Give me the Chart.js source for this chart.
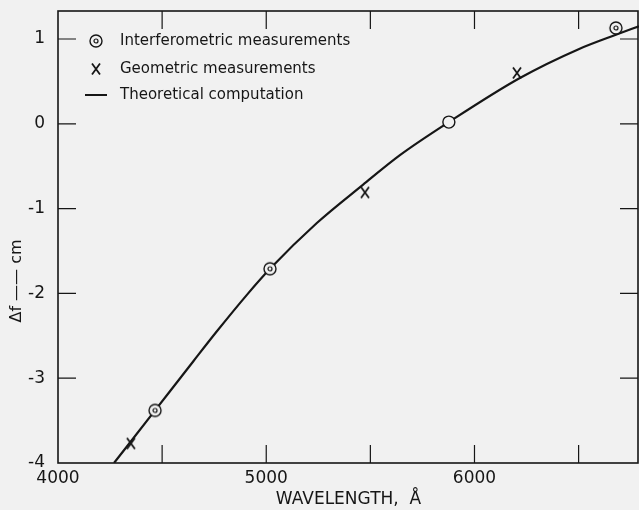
<!doctype html>
<html>

<head>
    <title>Focal shift</title>
    <script src="https://cdn.jsdelivr.net/npm/chart.js"></script>
</head>

<style>
    body { margin: 0; background: #f1f1f1; }
    #caixa { width: 639px; height: 510px; }
</style>

<body>
    <div id="caixa"><canvas id="grafico" width="639" height="510"></canvas></div>

    <script>
        // dados
        var xTicks = [4000, 4500, 5000, 5500, 6000, 6500];
        var xRotulos = [4000, 5000, 6000];
        var yTicks = [-4, -3, -2, -1, 0, 1];

        var interfX = [4466, 5018, 6679];
        var interfY = [-3.38, -1.71, 1.13];
        var sodioX = [5877];
        var sodioY = [0.02];
        var geomX = [4350, 5474, 6204];
        var geomY = [-3.77, -0.81, 0.60];
        var teoX = [4269, 4466, 4650, 4762, 4906, 5018, 5243, 5464, 5642, 5877, 6218, 6500, 6679, 6790];
        var teoY = [-4.00, -3.38, -2.80, -2.45, -2.02, -1.71, -1.17, -0.72, -0.37, 0.02, 0.54, 0.88, 1.05, 1.15];

        var fundo = '#f1f1f1';
        var tinta = '#161616';
        var fonte = '"DejaVu Sans"';

        function pares(xs, ys) {
            return xs.map((x, i) => ({ x: x, y: ys[i] }));
        }

        // marcador circulo com ponto
        var alvo = document.createElement('canvas');
        alvo.width = 16; alvo.height = 16;
        var c1 = alvo.getContext('2d');
        c1.fillStyle = fundo; c1.strokeStyle = tinta; c1.lineWidth = 1.4;
        c1.beginPath(); c1.arc(8, 8, 6, 0, 2 * Math.PI); c1.fill(); c1.stroke();
        c1.lineWidth = 1.2;
        c1.beginPath(); c1.arc(8, 8, 2, 0, 2 * Math.PI); c1.stroke();

        // marcador X
        var xis = document.createElement('canvas');
        xis.width = 12; xis.height = 14;
        var c2 = xis.getContext('2d');
        c2.strokeStyle = tinta; c2.lineWidth = 1.8;
        c2.beginPath();
        c2.moveTo(2, 1.5); c2.lineTo(10, 12.5);
        c2.moveTo(10, 1.5); c2.lineTo(2, 12.5);
        c2.stroke();

        var moldura = {
            id: 'moldura',
            beforeDatasetsDraw(chart) {
                var a = chart.chartArea, ctx = chart.ctx;
                var sx = chart.scales.x, sy = chart.scales.y, L = 18;
                ctx.save();
                ctx.strokeStyle = tinta;
                ctx.lineWidth = 1.6;
                ctx.strokeRect(a.left, a.top, a.right - a.left - 1, a.bottom - a.top);
                ctx.lineWidth = 1.2;
                ctx.beginPath();
                xTicks.forEach(v => {
                    var p = sx.getPixelForValue(v);
                    if (p <= a.left + 1) return;
                    ctx.moveTo(p, a.bottom); ctx.lineTo(p, a.bottom - L);
                    ctx.moveTo(p, a.top); ctx.lineTo(p, a.top + L);
                });
                yTicks.forEach(v => {
                    var p = sy.getPixelForValue(v);
                    if (p >= a.bottom - 1) return;
                    ctx.moveTo(a.left, p); ctx.lineTo(a.left + L, p);
                    ctx.moveTo(a.right - 1, p); ctx.lineTo(a.right - 1 - L, p);
                });
                ctx.stroke();
                ctx.restore();
            }
        };

        var legenda = {
            id: 'legenda',
            afterDatasetsDraw(chart) {
                var a = chart.chartArea, ctx = chart.ctx;
                var x0 = a.left + 38, xt = a.left + 62;
                var linhas = [a.top + 30, a.top + 58, a.top + 84];
                var textos = chart.data.datasets.filter(d => d.label).map(d => d.label);
                ctx.save();
                ctx.drawImage(alvo, x0 - 8, linhas[0] - 8);
                ctx.drawImage(xis, x0 - 6, linhas[1] - 7);
                ctx.strokeStyle = tinta; ctx.lineWidth = 2;
                ctx.beginPath(); ctx.moveTo(x0 - 11, linhas[2]); ctx.lineTo(x0 + 11, linhas[2]); ctx.stroke();
                ctx.font = '15px ' + fonte;
                ctx.fillStyle = tinta;
                ctx.textBaseline = 'middle';
                textos.forEach((t, i) => ctx.fillText(t, xt, linhas[i]));
                ctx.restore();
            }
        };

        var grafico = new Chart(document.getElementById('grafico').getContext('2d'), {
            type: 'scatter',
            data: {
                datasets: [{
                    label: 'Interferometric measurements',
                    data: pares(interfX, interfY),
                    pointStyle: alvo,
                    order: 1
                }, {
                    label: 'Geometric measurements',
                    data: pares(geomX, geomY),
                    pointStyle: xis,
                    order: 1
                }, {
                    label: 'Theoretical computation',
                    data: pares(teoX, teoY),
                    showLine: true,
                    borderColor: tinta,
                    borderWidth: 2.2,
                    cubicInterpolationMode: 'monotone',
                    pointRadius: 0,
                    order: 3
                }, {
                    data: pares(sodioX, sodioY),
                    pointStyle: 'circle',
                    pointRadius: 6,
                    borderWidth: 1.4,
                    borderColor: tinta,
                    backgroundColor: fundo,
                    order: 2
                }]
            },
            options: {
                responsive: false,
                animation: false,
                layout: { autoPadding: false, padding: { left: 4, top: 11, right: 0, bottom: 0 } },
                plugins: {
                    legend: { display: false },
                    tooltip: { enabled: false }
                },
                scales: {
                    x: {
                        type: 'linear',
                        min: 4000,
                        max: 6790,
                        afterBuildTicks: s => { s.ticks = xTicks.map(v => ({ value: v })); },
                        afterFit: s => { s.height = 47; s.paddingLeft = 0; s.paddingRight = 0; },
                        grid: { display: false },
                        border: { display: false },
                        ticks: {
                            autoSkip: false,
                            maxRotation: 0,
                            padding: -3,
                            color: tinta,
                            font: { family: fonte, size: 17 },
                            callback: v => xRotulos.includes(v) ? String(v) : ''
                        },
                        title: {
                            display: true,
                            text: 'WAVELENGTH,  Å',
                            color: tinta,
                            font: { family: fonte, size: 17 },
                            padding: { top: 0, bottom: 0 }
                        }
                    },
                    y: {
                        min: -4,
                        max: 1.33,
                        afterBuildTicks: s => { s.ticks = yTicks.map(v => ({ value: v })); },
                        afterFit: s => { s.width = 54; s.paddingTop = 0; s.paddingBottom = 0; },
                        grid: { display: false },
                        border: { display: false },
                        ticks: {
                            padding: 5,
                            color: tinta,
                            font: { family: fonte, size: 17 }
                        },
                        title: {
                            display: true,
                            text: 'Δf —— cm' + '\u2002'.repeat(11),
                            color: tinta,
                            font: { family: fonte, size: 16 },
                            padding: { top: 3, bottom: 0 }
                        }
                    }
                }
            },
            plugins: [moldura, legenda]
        });
    </script>
</body>

</html>
